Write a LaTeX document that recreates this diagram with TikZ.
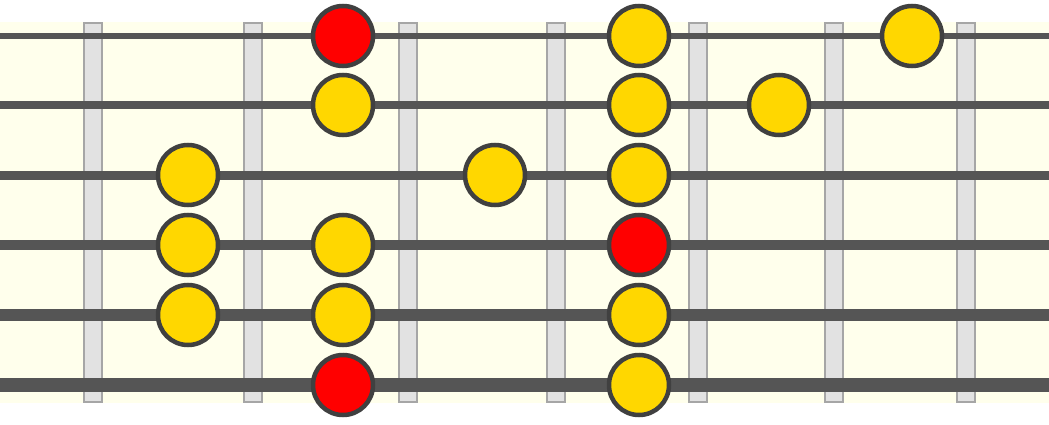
\documentclass[tikz,border=0pt]{standalone}
\definecolor{bgivory}{HTML}{FFFFEC}
\definecolor{fretfill}{HTML}{E2E2E2}
\definecolor{fretdraw}{HTML}{A6A6A6}
\definecolor{stringcol}{HTML}{555555}
\definecolor{notedraw}{HTML}{404040}
\definecolor{notegold}{HTML}{FFD700}
\definecolor{notered}{HTML}{FF0000}
\tikzset{
  fretbar/.style={fill=fretfill, draw=fretdraw, line width=2pt},
  gstring/.style={draw=stringcol},
  note/.style={circle, draw=notedraw, line width=4.5pt, minimum size=60pt, inner sep=0pt, fill=notegold},
  rootnote/.style={note, fill=notered}
}
\begin{document}
\begin{tikzpicture}[x=1pt,y=-1pt]
\useasboundingbox (0,0) rectangle (1049,425);
\fill[bgivory] (0,22) rectangle (1049,403);
% frets
\foreach \fx in {93,253,408,556,698,834,966}
  \draw[fretbar] (\fx-9,23) rectangle (\fx+9,402);
% strings
\foreach \sy/\sw in {36/6,105/7.5,175/9,245/10.5,315/12,385/13.5}
  \draw[gstring, line width=\sw pt] (0,\sy) -- (1049,\sy);
% notes: string 1
\node[rootnote] (n1a) at (343,36) {};
\node[note] (n1b) at (639,36) {};
\node[note] (n1c) at (912,36) {};
% string 2
\node[note] (n2a) at (343,105) {};
\node[note] (n2b) at (639,105) {};
\node[note] (n2c) at (779,105) {};
% string 3
\node[note] (n3a) at (188,175) {};
\node[note] (n3b) at (495,175) {};
\node[note] (n3c) at (639,175) {};
% string 4
\node[note] (n4a) at (188,245) {};
\node[note] (n4b) at (343,245) {};
\node[rootnote] (n4c) at (639,245) {};
% string 5
\node[note] (n5a) at (188,315) {};
\node[note] (n5b) at (343,315) {};
\node[note] (n5c) at (639,315) {};
% string 6
\node[rootnote] (n6a) at (343,385) {};
\node[note] (n6b) at (639,385) {};
\end{tikzpicture}
\end{document}
